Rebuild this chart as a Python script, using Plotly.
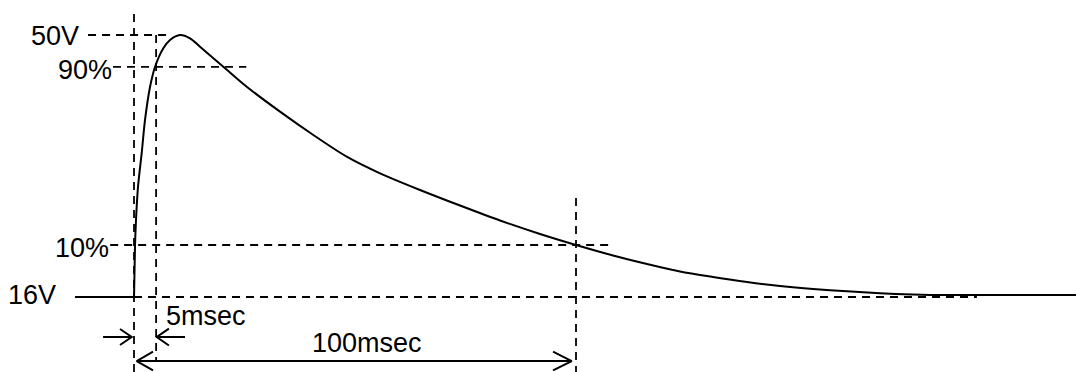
import plotly.graph_objects as go

# ---- data (time in msec, voltage in V) ----
baseline_t = [-13.35, 0.0]
baseline_v = [16.0, 16.0]

pulse_t = [0.0, 0.23, 0.45, 0.90, 1.74, 2.49, 3.62, 4.75, 6.63, 8.14, 10.41, 12.67,
           14.93, 20.20, 25.50, 33.03, 40.57, 48.12, 55.66, 64.71, 73.76, 82.81,
           91.86, 100.0, 108.37, 116.06, 123.53, 131.0, 138.69, 146.15, 153.62,
           161.31, 168.78, 176.24, 180.09, 213.12]
pulse_v = [16.0, 22.75, 25.99, 30.27, 34.69, 38.97, 43.25, 45.85, 48.27, 49.35, 50.0, 49.57,
           48.48, 45.89, 43.29, 40.05, 37.02, 34.21, 32.05, 29.89, 27.87, 25.93,
           24.18, 22.75, 21.39, 20.28, 19.31, 18.60, 17.95, 17.43, 17.04,
           16.74, 16.49, 16.31, 16.26, 16.26]

V_BASE = 16.0
V_PEAK = 50.0
V_90 = 45.85
V_10 = 22.75
T_RISE = 5.0
T_DECAY = 100.0

level_labels = ["50V", "90%", "10%", "16V"]
time_labels = ["5msec", "100msec"]

X_RANGE = [-30.32, 213.12]
Y_RANGE = [6.267, 54.54]

fig = go.Figure()

dash_style = dict(color="black", width=1.8, dash="8px,6px")

# dashed guide lines
guides = [
    ([-10.4, 7.5], [V_PEAK, V_PEAK]),
    ([-4.75, 25.4], [V_90, V_90]),
    ([-5.4, 107.5], [V_10, V_10]),
    ([0.0, 190.7], [V_BASE, V_BASE]),
    ([0.0, 0.0], [52.72, Y_RANGE[0]]),
    ([T_RISE, T_RISE], [V_PEAK, 7.8]),
    ([T_DECAY, T_DECAY], [28.85, Y_RANGE[0]]),
]
for gx, gy in guides:
    fig.add_trace(go.Scatter(x=gx, y=gy, mode="lines", line=dash_style,
                             hoverinfo="skip", showlegend=False))

solid = dict(color="black", width=2)

# pulse waveform
fig.add_trace(go.Scatter(x=baseline_t, y=baseline_v, mode="lines", line=solid,
                         hoverinfo="skip", showlegend=False))
fig.add_trace(go.Scatter(x=pulse_t, y=pulse_v, mode="lines",
                         line=dict(color="black", width=2, shape="spline", smoothing=0.8),
                         hoverinfo="skip", showlegend=False))

# arrows (open V heads)
arrows = [
    # left arrow pointing right to t=0
    ([-7.0, -0.52], [10.81, 10.81]),
    ([-3.17, -0.52, -3.17], [11.85, 10.81, 9.77]),
    # right arrow pointing left to t=5
    ([11.54, 5.14], [10.81, 10.81]),
    ([7.9, 5.14, 7.9], [11.9, 10.81, 9.7]),
    # double arrow 0..100
    ([0.61, 99.03], [7.69, 7.69]),
    ([4.3, 0.61, 4.3], [8.9, 7.69, 6.49]),
    ([94.8, 99.03, 94.8], [8.9, 7.69, 6.49]),
]
for ax_, ay_ in arrows:
    fig.add_trace(go.Scatter(x=ax_, y=ay_, mode="lines", line=solid,
                             hoverinfo="skip", showlegend=False))

font = dict(family="Liberation Sans, Arial, sans-serif", size=27, color="black")

label_pos = [(-12.2, 49.87), (-4.75, 45.46), (-5.43, 22.36), (-17.4, 16.26)]
for txt, (lx, ly) in zip(level_labels, label_pos):
    fig.add_annotation(x=lx, y=ly, text=txt, showarrow=False, xanchor="right",
                       yanchor="middle", font=font, borderpad=0)

fig.add_annotation(x=7.0, y=13.47, text=time_labels[0], showarrow=False,
                   xanchor="left", yanchor="middle", font=font, borderpad=0)
fig.add_annotation(x=52.7, y=10.03, text=time_labels[1], showarrow=False,
                   xanchor="center", yanchor="middle", font=font, borderpad=0)

fig.update_layout(
    width=1076, height=372,
    margin=dict(l=0, r=0, t=0, b=0),
    paper_bgcolor="white", plot_bgcolor="white",
    xaxis=dict(range=X_RANGE, visible=False, fixedrange=True),
    yaxis=dict(range=Y_RANGE, visible=False, fixedrange=True),
    showlegend=False,
)

fig.write_html("out.html", config={"displayModeBar": False},
               post_script="document.body.style.margin='0';")
